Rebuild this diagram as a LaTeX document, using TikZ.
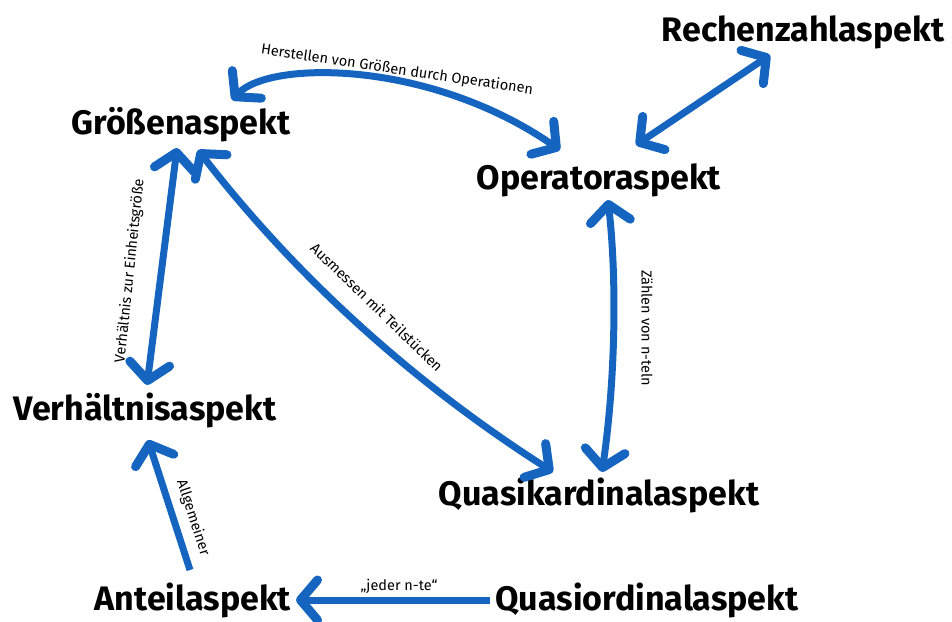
\documentclass[tikz,border=0pt]{standalone}
\usepackage{fontspec}
\setmainfont{Fira Sans}
\usetikzlibrary{arrows.meta,calc}
\definecolor{arrowblue}{RGB}{21,101,192}
\begin{document}
\begin{tikzpicture}[x=1pt,y=-1pt,
  aspect/.style={inner sep=0pt,anchor=center,font=\fontsize{34}{40}\selectfont\bfseries},
  lbl/.style={inner sep=0pt,font=\fontsize{14.5}{17}\selectfont},
  tipb/.tip={Straight Barb[length=17pt,width=40pt,line width=9pt,round]},
  conn/.style={draw=arrowblue,line width=7pt,arrows={tipb-tipb}},
  oneway/.style={draw=arrowblue,line width=7pt,arrows={-tipb}}]
\useasboundingbox (0,0) rectangle (952,621);
\node[aspect] (g) at (181,125) {Größenaspekt};
\node[aspect] (r) at (803,32) {Rechenzahlaspekt};
\node[aspect] (o) at (599,180) {Operatoraspekt};
\node[aspect] (v) at (145,410) {Verhältnisaspekt};
\node[aspect] (q) at (599,495) {Quasikardinalaspekt};
\node[aspect] (a) at (193,600) {Anteilaspekt};
\node[aspect] (qo) at (647,600) {Quasiordinalaspekt};
% connectors
\draw[conn] ($(g.center)+(51,-25)$) .. controls (270,60) and (430,60) .. ($(o.center)+(-39,-30)$);
\draw[conn] ($(o.center)+(37,-35)$) -- ($(r.center)+(-33,23)$);
\draw[conn] ($(g.center)+(-4,23)$) -- ($(v.center)+(2,-25)$);
\draw[conn] ($(g.center)+(17,25)$) .. controls (297,278) and (415,384) .. ($(q.center)+(-46,-23)$);
\draw[conn] ($(o.center)+(9,20)$) .. controls (618,290) and (614,390) .. ($(q.center)+(3,-23)$);
\draw[oneway] ($(a.center)+(-3,-30)$) -- ($(v.center)+(3,30)$);
\draw[oneway] ($(qo.center)+(-157,0)$) -- ($(a.center)+(103,0)$);
% labels
\node[lbl,rotate=-8.5] (l1) at (397,70) {Herstellen von Größen durch Operationen};
\node[lbl,rotate=84] (l2) at (130,271) {Verhältnis zur Einheitsgröße};
\node[lbl,rotate=-44] (l3) at (377,307) {Ausmessen mit Teilstücken};
\node[lbl,rotate=-90] (l4) at (647,328) {Zählen von n-teln};
\node[lbl,rotate=-72] (l5) at (193,518) {Allgemeiner};
\node[lbl] (l6) at (399,586) {„jeder n-te“};
\end{tikzpicture}
\end{document}
